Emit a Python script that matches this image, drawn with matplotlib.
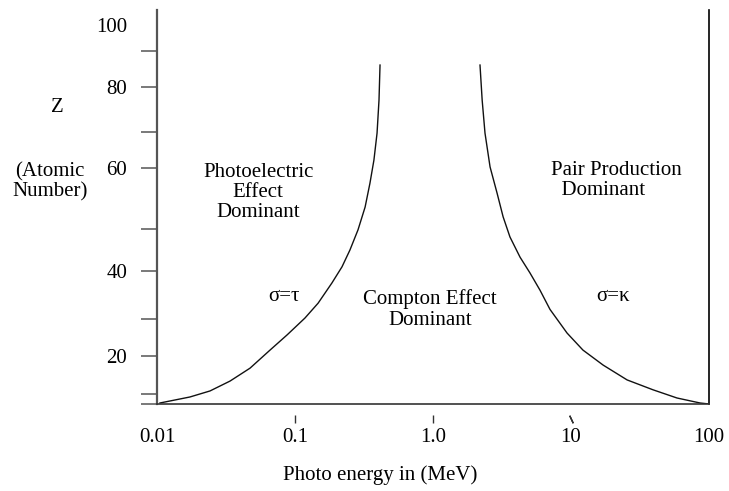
import matplotlib
matplotlib.use('Agg')
import matplotlib.pyplot as plt
import matplotlib.transforms as mtransforms
import numpy as np

plt.rcParams['font.family'] = 'Liberation Serif'
plt.rcParams['font.size'] = 15

# hand-drawn Z axis: tick value -> relative height
z_ticks = [7, 10, 20, 30, 40, 50, 60, 70, 80, 90, 100, 106]
z_pos = [0, 10, 48, 85, 133, 175, 236, 272, 317, 353, 379, 394]
z_labels = {20: '20', 40: '40', 60: '60', 80: '80', 100: '100'}

# photon energy (MeV) ticks
e_ticks = [0.01, 0.1, 1.0, 10, 100]
e_labels = ['0.01', '0.1', '1.0', '10', '100']

# boundary sigma = tau (photoelectric / compton)
left_e = [0.0105, 0.0173, 0.0242, 0.0338, 0.0472, 0.0659, 0.0876, 0.118, 0.147, 0.185,
          0.219, 0.250, 0.286, 0.322, 0.349, 0.373, 0.393, 0.406, 0.413]
left_z = [7.3, 9.1, 10.8, 13.4, 16.8, 21.6, 25.7, 30.2, 33.3, 37.5,
          41.0, 45.0, 49.8, 53.6, 57.5, 62.2, 69.7, 77.1, 86.1]

# boundary sigma = kappa (compton / pair production)
right_e = [2.19, 2.27, 2.38, 2.59, 2.91, 3.22, 3.61, 4.27, 5.04, 5.96,
           7.04, 9.36, 12.2, 17.1, 25.5, 39.3, 58.6, 86.1, 100]
right_z = [86.1, 77.1, 69.7, 60.3, 55.9, 52.0, 48.1, 43.3, 39.6, 36.0,
           32.0, 26.2, 21.6, 17.6, 13.7, 11.1, 8.8, 7.3, 7.0]


def fwd(z):
    return np.interp(z, z_ticks, z_pos)


def inv(p):
    return np.interp(p, z_pos, z_ticks)


fig = plt.figure(figsize=(7.29, 4.91), dpi=100)
ax = fig.add_axes([0.2154, 0.1772, 0.7572, 0.8024])
ax.set_xscale('log')
ax.set_yscale('function', functions=(fwd, inv))
ax.set_xlim(0.01, 100)
ax.set_ylim(7, 106)

ax.plot(left_e, left_z, color='#111111', lw=1.0)
ax.plot(right_e, right_z, color='#111111', lw=1.0)

# spines
ax.spines['top'].set_visible(False)
ax.spines['left'].set_color('#555555')
ax.spines['left'].set_linewidth(1.6)
ax.spines['bottom'].set_color('#333333')
ax.spines['bottom'].set_linewidth(1.2)
ax.spines['right'].set_color('black')
ax.spines['right'].set_linewidth(1.2)

# y ticks
yt = [7, 10, 20, 30, 40, 50, 60, 70, 80, 90, 100]
ax.set_yticks(yt)
ax.set_yticklabels([z_labels.get(v, '') for v in yt])
ax.yaxis.set_minor_locator(matplotlib.ticker.NullLocator())
ax.tick_params(axis='y', direction='out', length=11.5, width=1.1,
               color='#555555', pad=10)
for t in ax.yaxis.get_major_ticks():
    if t.get_loc() == 100:
        t.tick1line.set_visible(False)

# x ticks
ax.set_xticks(e_ticks)
ax.set_xticklabels(e_labels)
ax.xaxis.set_minor_locator(matplotlib.ticker.NullLocator())
ax.tick_params(axis='x', length=0, pad=17)

# little detached tick marks under the axis
trans = mtransforms.blended_transform_factory(ax.transData, ax.transAxes)
ax.plot([0.1, 1.0], [-0.038, -0.038], ls='none', marker='|', ms=6,
        color='#333333', transform=trans, clip_on=False)
ax.plot([10], [-0.038], ls='none', marker=(2, 2, 25), ms=6,
        color='#333333', transform=trans, clip_on=False)

# region labels
ax.text(0.054, 56.0, 'Photoelectric\nEffect\nDominant', ha='center', va='center',
        linespacing=1.05)
ax.text(7.2, 58, 'Pair Production\n  Dominant', ha='left', va='center',
        multialignment='left', linespacing=1.05)
ax.text(0.95, 31.9, 'Compton Effect\nDominant', ha='center', va='center',
        linespacing=1.15)
ax.text(0.083, 34.6, 'σ=τ', ha='center', va='center')
ax.text(20.1, 34.6, 'σ=κ', ha='center', va='center')

# axis titles
fig.text(57 / 729, 1 - 108 / 491, 'Z', ha='center', va='center')
fig.text(50 / 729, 1 - 182 / 491, '(Atomic\nNumber)', ha='center', va='center',
         linespacing=1.1)
fig.text(380 / 729, 1 - 475 / 491, 'Photo energy in (MeV)', ha='center',
         va='center')

fig.savefig('out.png', dpi=100)
